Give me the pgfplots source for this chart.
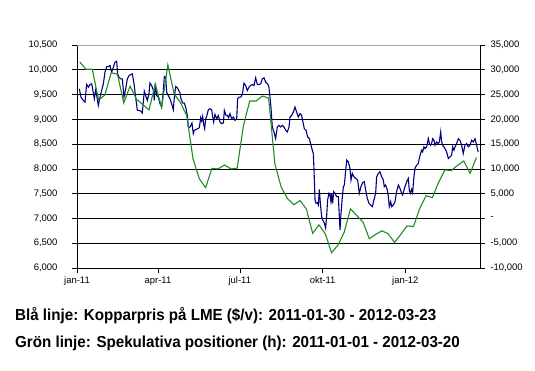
\documentclass[border=0pt]{standalone}
\usepackage{fontspec}
\setmainfont{Liberation Sans}
\newfontfamily\capfont[FakeStretch=0.95]{Liberation Sans Bold}
\usepackage{pgfplots}
\usepackage{pgfplotstable}
\pgfplotsset{compat=1.18}

\definecolor{navyline}{RGB}{0,0,128}
\definecolor{greenline}{RGB}{34,139,34}

% Blue: copper price on LME ($/t), x = days since 2011-01-01
\pgfplotstableread{
day price
2.6 9616
4.4 9448
7.0 9381
8.9 9348
10.7 9703
12.6 9649
14.5 9703
16.3 9716
17.4 9616
19.3 9415
20.8 9596
21.9 9482
23.7 9281
25.6 9448
27.4 9582
29.3 9716
31.1 9951
33.0 10064
34.8 10064
36.7 10085
38.5 9951
40.4 10051
42.2 10152
44.1 10172
45.2 9917
46.7 9850
48.5 9817
50.4 9817
52.2 9448
54.1 9616
56.0 9817
57.8 9884
59.7 9904
61.5 9917
63.4 9716
65.2 9448
67.1 9181
68.9 9181
70.8 9167
72.6 9127
73.7 9348
74.8 9569
76.3 9482
78.2 9381
80.0 9515
81.1 9730
83.0 9683
84.9 9582
86.0 9381
87.1 9730
88.6 9482
90.4 9448
92.3 9315
94.1 9248
96.0 9582
97.1 9864
98.6 9850
99.7 9549
101.5 9482
103.4 9415
105.2 9315
107.1 9194
108.2 9448
109.7 9663
111.5 9636
113.4 9569
114.5 9535
115.6 9415
117.5 9328
119.3 9328
120.8 9248
122.6 9080
123.8 8832
125.6 8846
126.7 8879
127.8 8926
129.3 8712
130.4 8779
132.3 8792
134.1 8812
136.0 8832
137.5 9033
138.6 8966
139.7 9060
140.8 8899
141.9 8812
143.0 9013
144.1 9060
146.0 9194
147.8 9214
149.7 9194
150.8 9060
151.9 8946
153.4 9100
155.3 9013
157.1 9080
159.0 8946
160.8 8913
162.7 8926
163.8 9181
165.6 9080
167.1 9080
168.6 9033
170.1 9114
171.9 9013
173.8 9047
175.6 8980
177.5 9013
178.6 9415
180.1 9448
181.9 9448
183.8 9502
185.6 9730
187.5 9683
189.3 9582
191.2 9649
193.1 9683
194.9 9703
196.8 9683
198.6 9837
200.5 9703
202.3 9703
204.2 9716
206.0 9817
207.9 9837
209.7 9750
212.0 9716
213.4 9649
215.6 9248
217.1 8846
219.0 8745
220.8 8611
222.7 8846
224.5 8879
226.4 8846
228.2 8879
230.1 8846
232.0 8779
233.8 8745
235.7 8846
236.8 9047
238.6 9080
240.5 9147
242.3 9248
244.2 9147
246.0 9047
247.9 9114
249.7 9080
250.8 8980
252.7 8812
254.6 8779
256.4 8645
258.3 8611
260.1 8478
261.6 8377
262.7 8310
263.5 7975
264.6 7373
265.7 7306
267.1 7319
268.3 7272
269.4 7587
270.5 7306
272.0 7038
273.1 6971
275.0 6904
276.4 6804
277.5 7038
278.6 7373
280.1 7507
281.2 7473
282.3 7339
283.1 7507
284.2 7306
285.3 7540
286.8 7507
288.6 7440
290.5 7440
292.4 6770
293.5 7105
295.0 7440
296.1 7641
297.2 7674
298.7 7975
299.8 8176
301.6 8143
303.5 8009
304.6 7774
306.1 7908
307.9 7841
309.8 7808
312.0 7774
313.8 7507
315.7 7641
317.5 7721
319.4 7741
320.9 7574
322.7 7406
324.6 7306
326.4 7272
328.3 7239
330.1 7373
332.0 7507
333.1 7841
335.0 7908
336.8 7942
338.7 7841
340.5 7774
341.6 7641
343.1 7674
345.0 7574
346.1 7440
347.2 7239
348.7 7339
349.8 7239
351.6 7272
353.5 7339
355.3 7540
357.2 7674
359.0 7607
360.9 7507
362.0 7473
363.5 7574
364.6 7641
366.5 7741
368.3 7808
369.4 7574
370.5 7507
372.0 7587
373.1 7520
374.2 7774
375.7 8009
377.6 8076
379.4 8109
380.5 8210
382.0 8310
383.1 8377
384.2 8344
385.7 8444
386.8 8411
388.7 8444
390.5 8611
391.7 8511
393.1 8478
394.2 8511
395.4 8611
396.8 8578
398.0 8478
399.8 8544
401.7 8511
402.8 8544
404.3 8745
405.4 8544
406.5 8478
408.0 8444
409.1 8411
410.9 8343
412.8 8210
414.6 8243
416.5 8277
417.6 8444
419.1 8377
420.2 8444
422.0 8511
423.9 8611
425.7 8578
427.6 8478
429.4 8310
431.3 8478
433.1 8511
435.0 8444
436.9 8478
438.7 8578
440.6 8544
442.4 8611
444.3 8478
445.4 8377
446.1 8343
}\copper

% Green: speculative positions, x = days since 2011-01-01
\pgfplotstableread{
day pos
3 31600
10 30100
17 30100
24 23900
31 24900
38 29400
45 29100
52 23300
59 26700
66 24100
73 23000
80 21900
87 27100
94 22400
101 31000
108 25100
115 23400
122 20700
129 12000
136 8000
143 6200
150 10100
157 10000
164 10800
171 10000
178 10100
185 18700
192 23700
199 23700
206 24700
213 24300
220 11000
227 6300
234 4000
241 2800
248 3600
255 1900
262 -3000
269 -1300
276 -3100
283 -6900
290 -5400
297 -2800
304 1950
311 600
318 -750
325 -4100
332 -3200
339 -2500
346 -3100
353 -4850
360 -3200
367 -1500
374 -1650
381 2000
388 4600
395 4200
402 7300
409 9800
416 9650
423 10700
430 11600
437 9100
444 12300
}\spec

\begin{document}
\begin{tikzpicture}
\path[use as bounding box] (-77bp,-103bp) rectangle (458bp,268bp);
\begin{axis}[
  at={(0,0)}, anchor=south west,
  width=403bp, height=223bp, scale only axis,
  xmin=0, xmax=448, ymin=6000, ymax=10500,
  axis x line*=bottom, axis y line*=left,
  axis line style={-, black, line width=0.8bp},
  xtick={0,90,181,273,365},
  xticklabels={jan-11,apr-11,jul-11,okt-11,jan-12},
  ytick={6000,6500,...,10000},
  extra y ticks={10500},
  extra y tick style={grid=major, major grid style={gray!70, line width=0.8bp}},
  ymajorgrids, major grid style={black, line width=0.6bp},
  tick align=outside, major tick length=5bp,
  tick style={black, line width=0.6bp},
  scaled ticks=false,
  tick label style={font=\fontsize{9.5}{11}\selectfont},
  /pgf/number format/1000 sep={,},
  /pgf/number format/assume math mode=true,
  yticklabel style={xshift=-11bp},
]
\addplot[navyline, line width=1.1bp] table[x=day, y=price] {\copper};
\end{axis}
\begin{axis}[
  at={(0,0)}, anchor=south west,
  width=403bp, height=223bp, scale only axis,
  xmin=0, xmax=448, ymin=-10000, ymax=35000,
  axis x line=none, axis y line*=right,
  axis line style={-, black, line width=0.8bp},
  scaled ticks=false,
  ytick={-10000,-5000,...,35000},
  yticklabels={{-10,000},{-5,000},{-},{5,000},{10,000},{15,000},{20,000},{25,000},{30,000},{35,000}},
  tick align=outside, major tick length=5bp,
  tick style={black, line width=0.6bp},
  tick label style={font=\fontsize{9.5}{11}\selectfont},
  yticklabel style={xshift=2bp},
]
\addplot[greenline, line width=1.1bp] table[x=day, y=pos] {\spec};
\end{axis}
\node[anchor=base west, inner sep=0pt, font=\capfont\fontsize{16}{18}\selectfont] at (-62bp,-52bp) {Blå linje: Kopparpris på LME (\$/v): 2011-01-30 - 2012-03-23};
\node[anchor=base west, inner sep=0pt, font=\capfont\fontsize{16}{18}\selectfont] at (-62bp,-79bp) {Grön linje: Spekulativa positioner (h): 2011-01-01 - 2012-03-20};
\end{tikzpicture}
\end{document}
